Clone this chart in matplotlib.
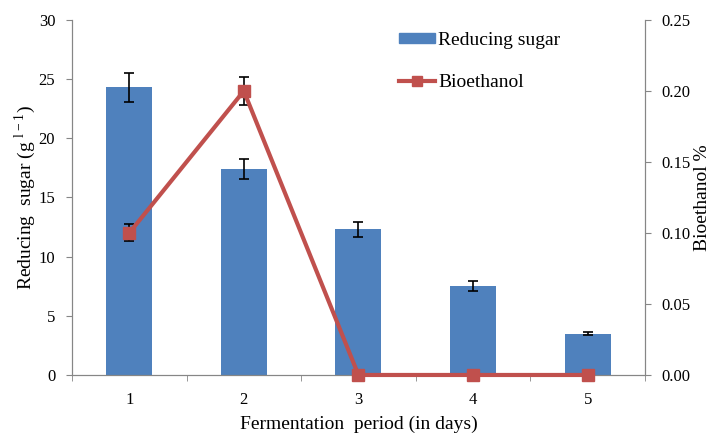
import numpy as np
import matplotlib
matplotlib.use("Agg")
import matplotlib.pyplot as plt
from matplotlib.patches import Patch
from matplotlib.lines import Line2D

plt.rcParams["font.family"] = ["Liberation Serif", "DejaVu Serif"]
plt.rcParams["mathtext.fontset"] = "custom"
plt.rcParams["mathtext.rm"] = "Liberation Serif"
plt.rcParams["font.size"] = 12

days = [1, 2, 3, 4, 5]
sugar = [24.3, 17.4, 12.3, 7.5, 3.5]
sugar_err = [1.2, 0.85, 0.6, 0.4, 0.12]
ethanol = [0.10, 0.20, 0.0, 0.0, 0.0]
ethanol_err = [0.006, 0.01, 0.0, 0.0, 0.0]

blue = "#4F81BD"
red = "#C0504D"
grey = "#868686"

fig = plt.figure(figsize=(7.19, 4.34), dpi=100)
ax = fig.add_axes([0.1, 0.136, 0.797, 0.818])
x = np.arange(len(days))

ax.bar(x, sugar, width=0.4, color=blue, zorder=2)
ax.errorbar(x, sugar, yerr=sugar_err, fmt="none", ecolor="black",
            elinewidth=1.2, capsize=3.5, capthick=1.2, zorder=3)
ax.set_xlim(-0.5, len(days) - 0.5)
ax.set_ylim(0, 30)
ax.set_yticks(range(0, 31, 5))
ax.set_xticks(x)
ax.set_xticklabels([str(d) for d in days])
ax.set_xticks(np.arange(-0.5, len(days), 1), minor=True)
ax.tick_params(axis="x", which="major", length=0, pad=12)
ax.tick_params(axis="x", which="minor", length=4, color=grey)
ax.tick_params(axis="y", length=4, color=grey, pad=8)
ax.set_ylabel(r"Reducing  sugar (g $^{\mathrm{l-1}}$)", fontsize=14, labelpad=0)
ax.set_xlabel("Fermentation  period (in days)", fontsize=14, labelpad=6)
ax.spines["top"].set_visible(False)
for s in ["left", "bottom", "right"]:
    ax.spines[s].set_color(grey)

ax2 = ax.twinx()
ax2.errorbar(x, ethanol, yerr=ethanol_err, fmt="none", ecolor="black",
             elinewidth=1.2, capsize=3.5, capthick=1.2, zorder=3)
ax2.plot(x, ethanol, color=red, linewidth=3, marker="s", markersize=9,
         zorder=4, clip_on=False)
ax2.set_ylim(0, 0.25)
ax2.set_yticks(np.arange(0, 0.26, 0.05))
ax2.set_yticklabels([f"{v:.2f}" for v in np.arange(0, 0.26, 0.05)])
ax2.tick_params(axis="y", length=4, color=grey, pad=8)
ax2.set_ylabel("Bioethanol %", fontsize=14, labelpad=2)
ax2.spines["top"].set_visible(False)
for s in ["left", "bottom", "right"]:
    ax2.spines[s].set_color(grey)

handles = [Patch(color=blue), Line2D([], [], color=red, linewidth=3, marker="s", markersize=7)]
ax2.legend(handles, ["Reducing sugar", "Bioethanol"], loc="upper left",
           bbox_to_anchor=(0.541, 1.015), frameon=False, handlelength=1.85,
           handleheight=0.4, labelspacing=1.3, fontsize=14, handletextpad=0.15)

fig.savefig("out.png", dpi=100)
